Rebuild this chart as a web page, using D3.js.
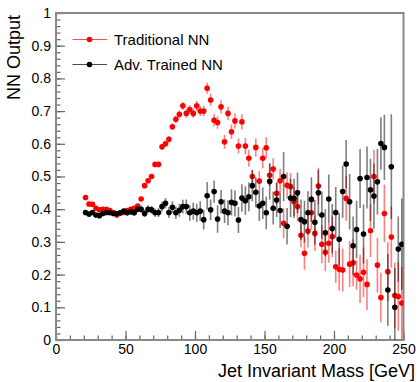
<!DOCTYPE html>
<html>
<head>
<meta charset="utf-8">
<script src="https://cdn.jsdelivr.net/npm/d3@7"></script>
<style>
  body { margin: 0; background: #fff; }
  text { font-family: "Liberation Sans", Arial, Helvetica, sans-serif; fill: #000; }
</style>
</head>
<body>
<div id="chart"></div>
<script>
// binning of the mass histogram (GeV)
const binStart = 20, binWidth = 2.5

// NN output per mass bin
const tradNN = [0.436,0.416,0.415,0.403,0.398,0.400,0.400,0.396,0.390,0.382,
  0.388,0.390,0.396,0.400,0.403,0.410,0.431,0.472,0.487,0.500,
  0.537,0.537,0.591,0.600,0.614,0.652,0.675,0.690,0.716,0.693,
  0.705,0.693,0.716,0.700,0.700,0.770,0.734,0.672,0.665,0.713,
  0.606,0.693,0.637,0.670,0.593,0.667,0.593,0.556,0.500,0.589,
  0.486,0.556,0.588,0.504,0.523,0.449,0.487,0.357,0.473,0.469,
  0.423,0.408,0.320,0.265,0.333,0.389,0.326,0.471,0.293,0.268,
  0.296,0.316,0.224,0.216,0.214,0.433,0.232,0.236,0.199,0.187,
  0.207,0.170,0.334,0.500,0.229,0.130,0.387,0.209,0.315,0.136,
  0.133,0.113]
const tradErr = [0.004,0.004,0.004,0.004,0.004,0.004,0.004,0.004,0.004,0.004,
  0.004,0.004,0.004,0.005,0.005,0.005,0.006,0.006,0.007,0.007,
  0.008,0.008,0.009,0.009,0.010,0.010,0.011,0.012,0.012,0.013,
  0.013,0.014,0.015,0.015,0.016,0.017,0.018,0.018,0.019,0.020,
  0.021,0.021,0.022,0.023,0.023,0.023,0.025,0.026,0.021,0.028,
  0.030,0.031,0.032,0.033,0.033,0.035,0.037,0.046,0.040,0.042,
  0.044,0.045,0.036,0.050,0.050,0.052,0.054,0.056,0.058,0.058,
  0.060,0.062,0.050,0.065,0.066,0.068,0.070,0.072,0.045,0.074,
  0.076,0.078,0.080,0.082,0.084,0.076,0.088,0.090,0.094,0.100,
  0.105,0.110]

const advNN = [0.390,0.385,0.390,0.382,0.380,0.387,0.390,0.389,0.387,0.387,
  0.389,0.394,0.389,0.392,0.389,0.400,0.400,0.387,0.400,0.398,
  0.389,0.390,0.408,0.418,0.390,0.406,0.389,0.397,0.408,0.408,
  0.389,0.394,0.389,0.394,0.368,0.441,0.398,0.454,0.370,0.423,
  0.394,0.389,0.421,0.418,0.367,0.434,0.426,0.438,0.472,0.452,
  0.410,0.418,0.389,0.485,0.403,0.428,0.396,0.500,0.348,0.434,
  0.433,0.450,0.368,0.362,0.389,0.430,0.360,0.450,0.382,0.328,
  0.431,0.341,0.390,0.308,0.454,0.538,0.423,0.288,0.338,0.494,
  0.324,0.497,0.459,0.440,0.484,0.601,0.589,0.153,0.530,0.100,
  0.278,0.293]
const advErr = [0.006,0.006,0.006,0.006,0.006,0.006,0.006,0.006,0.006,0.006,
  0.008,0.008,0.009,0.009,0.010,0.010,0.011,0.011,0.012,0.012,
  0.013,0.014,0.015,0.016,0.017,0.018,0.019,0.020,0.021,0.022,
  0.024,0.026,0.028,0.030,0.030,0.042,0.032,0.034,0.042,0.036,
  0.036,0.038,0.040,0.040,0.040,0.042,0.044,0.044,0.048,0.046,
  0.046,0.048,0.050,0.056,0.050,0.052,0.054,0.075,0.056,0.058,
  0.060,0.062,0.062,0.064,0.066,0.068,0.068,0.070,0.072,0.072,
  0.075,0.075,0.078,0.080,0.080,0.074,0.085,0.090,0.088,0.090,
  0.090,0.095,0.095,0.100,0.100,0.080,0.100,0.110,0.160,0.120,
  0.100,0.140]

const xTicks = [0, 50, 100, 150, 200, 250]
const yTicks = [0, 0.1, 0.2, 0.3, 0.4, 0.5, 0.6, 0.7, 0.8, 0.9, 1]
const seriesNames = ["Traditional NN", "Adv. Trained NN"]
const seriesColors = ["#ff0000", "#000000"]

const W = 419, H = 382
const plot = {left: 56, right: 403.5, top: 13, bottom: 340}

const svg = d3.select("#chart").append("svg")
  .attr("width", W).attr("height", H)

svg.append("defs").append("clipPath").attr("id", "plotclip")
  .append("rect")
  .attr("x", plot.left).attr("y", plot.top)
  .attr("width", plot.right - plot.left).attr("height", plot.bottom - plot.top)

const x = d3.scaleLinear().domain([0, 250]).range([plot.left, plot.right])
const y = d3.scaleLinear().domain([0, 1]).range([plot.bottom, plot.top])

const series = [tradNN, advNN].map((vals, i) => ({
  name: seriesNames[i],
  color: seriesColors[i],
  points: vals.map((v, k) => ({
    m: binStart + binWidth * (k + 0.5),
    v: v,
    e: (i === 0 ? tradErr : advErr)[k]
  }))
}))

// minor ticks first
svg.append("g")
  .attr("transform", `translate(0,${plot.bottom})`)
  .call(d3.axisBottom(x).tickValues(d3.range(0, 251, 10)).tickSize(-4.5).tickFormat(""))
  .call(g => g.select(".domain").remove())
svg.append("g")
  .attr("transform", `translate(${plot.left},0)`)
  .call(d3.axisLeft(y).tickValues(d3.range(0, 1.001, 0.02)).tickSize(-4.5).tickFormat(""))
  .call(g => g.select(".domain").remove())

// major ticks + labels
const xAxis = svg.append("g")
  .attr("transform", `translate(0,${plot.bottom})`)
  .call(d3.axisBottom(x).tickValues(xTicks).tickSize(-9).tickPadding(4).tickFormat(d3.format("d")))
const yAxis = svg.append("g")
  .attr("transform", `translate(${plot.left},0)`)
  .call(d3.axisLeft(y).tickValues(yTicks).tickSize(-9).tickPadding(5).tickFormat(d => d3.format("")(+d.toFixed(1))))

xAxis.selectAll("text").attr("font-size", 14).attr("fill", "#000")
yAxis.selectAll("text").attr("font-size", 14).attr("fill", "#000")
svg.selectAll(".tick line").attr("stroke", "#666").attr("stroke-width", 1.2)
svg.selectAll(".domain").remove()

// frame
svg.append("rect")
  .attr("x", plot.left).attr("y", plot.top)
  .attr("width", plot.right - plot.left).attr("height", plot.bottom - plot.top)
  .attr("fill", "none").attr("stroke", "#888").attr("stroke-width", 2)

// data
const layer = svg.append("g").attr("clip-path", "url(#plotclip)")
series.forEach(s => {
  const g = layer.append("g")
  g.selectAll("line.err").data(s.points).enter().append("line")
    .attr("class", "err")
    .attr("x1", d => x(d.m)).attr("x2", d => x(d.m))
    .attr("y1", d => y(d.v - d.e)).attr("y2", d => y(d.v + d.e))
    .attr("stroke", s.color).attr("stroke-opacity", 0.5).attr("stroke-width", 1.6)
  g.selectAll("circle").data(s.points).enter().append("circle")
    .attr("cx", d => x(d.m)).attr("cy", d => y(d.v))
    .attr("r", 2.8).attr("fill", s.color)
})

// legend
const legend = svg.append("g")
series.forEach((s, i) => {
  const ly = 39.5 + i * 25
  legend.append("line")
    .attr("x1", 72.5).attr("x2", 107).attr("y1", ly).attr("y2", ly)
    .attr("stroke", s.color).attr("stroke-opacity", 0.7).attr("stroke-width", 1)
  legend.append("circle").attr("cx", 89.5).attr("cy", ly).attr("r", 2.8).attr("fill", s.color)
  legend.append("text").attr("x", 114).attr("y", ly + 5.5)
    .attr("font-size", 15).text(s.name)
})

// axis titles
svg.append("text")
  .attr("x", 415).attr("y", 377)
  .attr("text-anchor", "end").attr("font-size", 18)
  .text("Jet Invariant Mass [GeV]")
svg.append("text")
  .attr("transform", "translate(20,15) rotate(-90)")
  .attr("text-anchor", "end").attr("font-size", 18)
  .text("NN Output")
</script>
</body>
</html>
